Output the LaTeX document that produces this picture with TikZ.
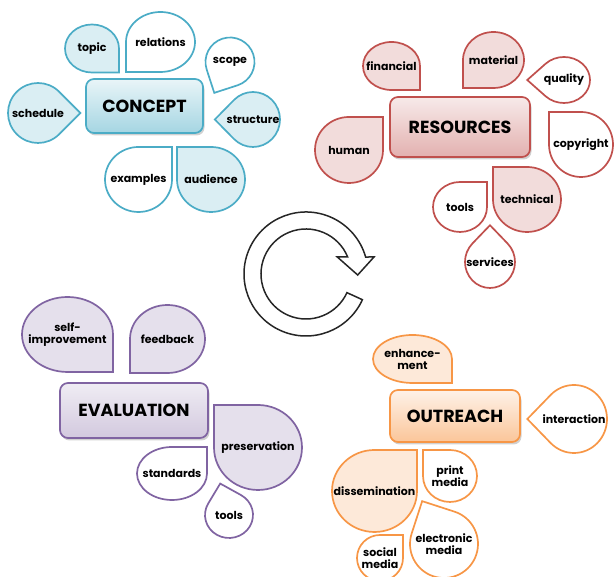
\documentclass[tikz,border=0pt]{standalone}
\usepackage{fontspec}
\setmainfont{Poppins}
\usetikzlibrary{shadows}

\definecolor{conceptline}{HTML}{4BACC6}
\definecolor{conceptfill}{HTML}{DAEEF3}
\definecolor{resline}{HTML}{C0504D}
\definecolor{resfill}{HTML}{F2DCDB}
\definecolor{evalline}{HTML}{8064A2}
\definecolor{evalfill}{HTML}{E5E0EC}
\definecolor{outline}{HTML}{F79646}
\definecolor{outfill}{HTML}{FDE9D9}

\begin{document}
\begin{tikzpicture}[%
    x=1pt, y=1pt,
    drop/.style={
        line width=1.7pt,
        line join=miter
        },
    droptext/.style={
        font=\bfseries\fontsize{11}{12}\selectfont,
        align=center,
        inner sep=0pt
        },
    hub/.style={%
        draw,
        rounded corners=8pt,
        line width=1.7pt,
        font=\bfseries\fontsize{17.5}{18}\selectfont,
        drop shadow={shadow xshift=1.5pt, shadow yshift=-2.5pt,
                     opacity=0.3, fill=black!60}},
    cyclearrow/.style={draw=black!85, fill=white, line width=1.5pt, line join=miter},
]

\useasboundingbox (0,0) rectangle (614,577);

% concept
\foreach \cx/\cy/\rx/\ry/\ang/\fil/\txt [count=\i] in {
    92/528.5/27/24/-45/conceptfill/topic,
    160.5/535/34.5/30/225/white/relations,
    230/515/24.5/24.5/243/white/scope,
    38/464/30/30/0/conceptfill/schedule,
    253/457.5/27/27.5/180/conceptfill/structure,
    138.5/397.5/33.5/32.5/45/white/examples,
    211/397.5/34/32.5/135/conceptfill/audience}{
    \draw[drop, draw=conceptline, fill=\fil, shift={(\cx,\cy)}, xscale=\rx, yscale=\ry, rotate=\ang-45]
        (0,1) -- (1,1) -- (1,0) arc[start angle=0, end angle=-270, radius=1] -- cycle;
    \node[droptext] (concept\i) at (\cx,\cy) {\txt};
}
\node[hub, draw=conceptline, top color=conceptfill!60, bottom color=conceptline!50,
      minimum width=117pt, minimum height=54pt] (concept) at (144.5,471) {CONCEPT};

% resources
\foreach \cx/\cy/\rx/\ry/\ang/\fil/\txt [count=\i] in {
    391.5/511/28.5/24/-45/resfill/financial,
    493.5/517/30.5/28/225/resfill/material,
    564/497/26/23/180/white/quality,
    349/427/34/33/45/resfill/human,
    581/432.5/32/32.5/135/white/copyright,
    460/370/27/25/45/white/tools,
    527/377.5/34/32.5/135/resfill/technical,
    490/315/25/26/90/white/services}{
    \draw[drop, draw=resline, fill=\fil, shift={(\cx,\cy)}, xscale=\rx, yscale=\ry, rotate=\ang-45]
        (0,1) -- (1,1) -- (1,0) arc[start angle=0, end angle=-270, radius=1] -- cycle;
    \node[droptext] (res\i) at (\cx,\cy) {\txt};
}
\node[hub, draw=resline, top color=resfill!60, bottom color=resline!45,
      minimum width=140pt, minimum height=60pt] (resources) at (460,450) {RESOURCES};

% evaluation
\foreach \cx/\cy/\rx/\ry/\ang/\fil/\txt [count=\i] in {
    67.5/242.5/45.5/37.5/-45/evalfill/{self-\\improvement},
    167.5/238/37.5/34/225/evalfill/feedback,
    258/129.5/44/42.5/135/evalfill/preservation,
    172/103.5/35/26.5/45/white/standards,
    229/62/24/23/105/white/tools}{
    \draw[drop, draw=evalline, fill=\fil, shift={(\cx,\cy)}, xscale=\rx, yscale=\ry, rotate=\ang-45]
        (0,1) -- (1,1) -- (1,0) arc[start angle=0, end angle=-270, radius=1] -- cycle;
    \node[droptext] (eval\i) at (\cx,\cy) {\txt};
}
\node[hub, draw=evalline, top color=evalfill!60, bottom color=evalline!35,
      minimum width=148pt, minimum height=55pt] (evaluation) at (134,166.5) {EVALUATION};

% outreach
\foreach \cx/\cy/\rx/\ry/\ang/\fil/\txt [count=\i] in {
    412.5/218/39.5/24/-45/outfill/{enhance-\\ment},
    574/158/33/34/180/white/interaction,
    374.5/86/42.5/41/45/outfill/dissemination,
    450/101/27/26/135/white/{print\\media},
    444/33/34/34/117/white/{electronic\\media},
    380/19/23/23/45/white/{social\\media}}{
    \draw[drop, draw=outline, fill=\fil, shift={(\cx,\cy)}, xscale=\rx, yscale=\ry, rotate=\ang-45]
        (0,1) -- (1,1) -- (1,0) arc[start angle=0, end angle=-270, radius=1] -- cycle;
    \node[droptext] (out\i) at (\cx,\cy) {\txt};
}
\node[hub, draw=outline, top color=outfill!60, bottom color=outline!55,
      minimum width=130pt, minimum height=52pt] (outreach) at (455,161) {OUTREACH};

% cycle arrow in the middle
\begin{scope}[shift={(306,303)}]
\draw[cyclearrow] (-24.5:62) arc[start angle=-24.5, end angle=-344.1, radius=62]
    -- (68,17) -- (51.7,-1) -- (31.3,17)
    -- (22.2:45) arc[start angle=22.2, end angle=335.5, radius=45] -- cycle;
\end{scope}
\end{tikzpicture}
\end{document}
